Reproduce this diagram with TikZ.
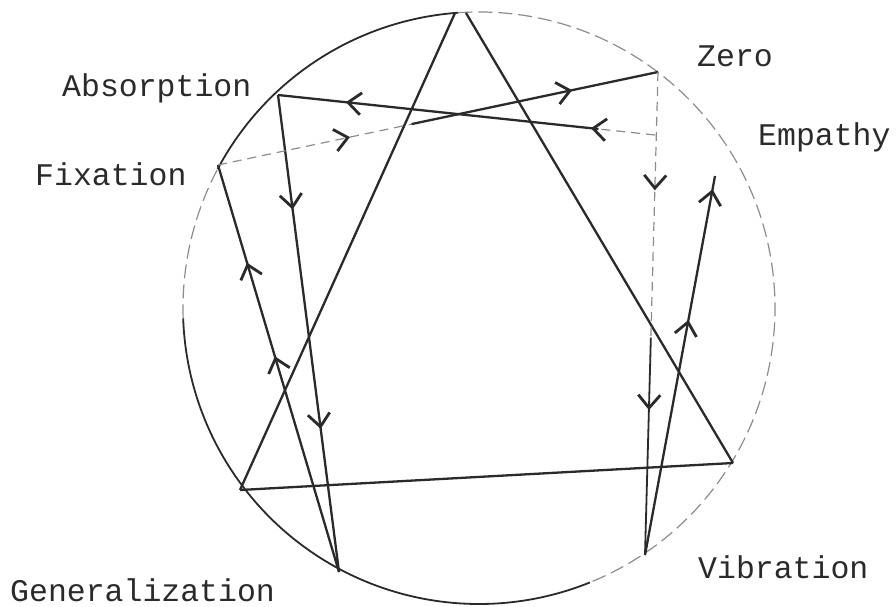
\documentclass[tikz,border=0pt]{standalone}
\usepackage{fontspec}
\setmonofont{Liberation Mono}
\usetikzlibrary{arrows.meta,decorations.markings,calc}
\definecolor{ink}{HTML}{2A2A2A}
\definecolor{pale}{HTML}{8C8C8C}
\begin{document}
\begin{tikzpicture}[x=1pt,y=-1pt,
  ln/.style={draw=ink,line width=2.3pt},
  faint/.style={draw=pale,line width=1.2pt,dash pattern=on 9pt off 6pt},
  rim/.style={draw=ink,line width=1.8pt},
  rimfaint/.style={draw=pale,line width=1.2pt,dash pattern=on 14pt off 6pt},
  tip/.style={postaction={decorate,decoration={markings,mark=at position #1 with {\arrow[ink,solid,line width=2.8pt]{Straight Barb[length=13pt,width=22pt]}}}}},
  lbl/.style={font=\ttfamily\fontsize{31.5}{31.5}\selectfont,text=ink,inner sep=0pt,anchor=base west}]
\useasboundingbox (0,0) rectangle (896,607);
% circle centre and points
\coordinate (C) at (479,308);
\coordinate (T1) at (455,13);
\coordinate (T2) at (466,13);
\coordinate (BL) at (240,490);
\coordinate (BR) at (733,463);
\coordinate (A) at (278,95);
\coordinate (Z) at (658,72);
\coordinate (F) at (218,165);
\coordinate (J) at (655,135);
\coordinate (G) at (339,572);
\coordinate (V) at (645,555);
\coordinate (E) at (715,176);
% circle
\draw[rim] ($(C)+(68:296)$) arc[start angle=68,end angle=178,radius=296];
\draw[rimfaint] ($(C)+(178:296)$) arc[start angle=178,end angle=208,radius=296];
\draw[rim] ($(C)+(208:296)$) arc[start angle=208,end angle=266,radius=296];
\draw[rimfaint] ($(C)+(266:296)$) arc[start angle=266,end angle=428,radius=296];
% triangle
\draw[ln] (T1) -- (BL);
\draw[ln] (T2) -- (BR);
\draw[ln] (BL) -- (BR);
% hexad path
\draw[ln,tip=0.24,tip=0.70] (A) -- (G);
\draw[ln,tip=0.53,tip=0.76] (G) -- (F);
\draw[faint] (F) -- ($(F)!0.44!(Z)$);
\draw[ln] ($(F)!0.44!(Z)$) -- (Z);
\path[tip=0.30,tip=0.805] (F) -- (Z);
\draw[faint] (Z) -- ($(Z)!0.55!(V)$);
\draw[ln,line width=1.8pt] ($(Z)!0.55!(V)$) -- (V);
\path[tip=0.245,tip=0.70] (Z) -- (V);
\draw[ln,tip=0.62,tip=0.965] (V) -- (E);
\draw[faint] (J) -- ($(J)!0.15!(A)$);
\draw[ln] ($(J)!0.15!(A)$) -- (A);
\path[tip=0.17,tip=0.82] (J) -- (A);
% labels
\node[lbl] (lA) at (62,97) {Absorption};
\node[lbl] (lZ) at (697,67) {Zero};
\node[lbl] (lE) at (758,146) {Empathy};
\node[lbl] (lF) at (35,185) {Fixation};
\node[lbl] (lG) at (10,601) {Generalization};
\node[lbl] (lV) at (698,578) {Vibration};
\end{tikzpicture}
\end{document}
